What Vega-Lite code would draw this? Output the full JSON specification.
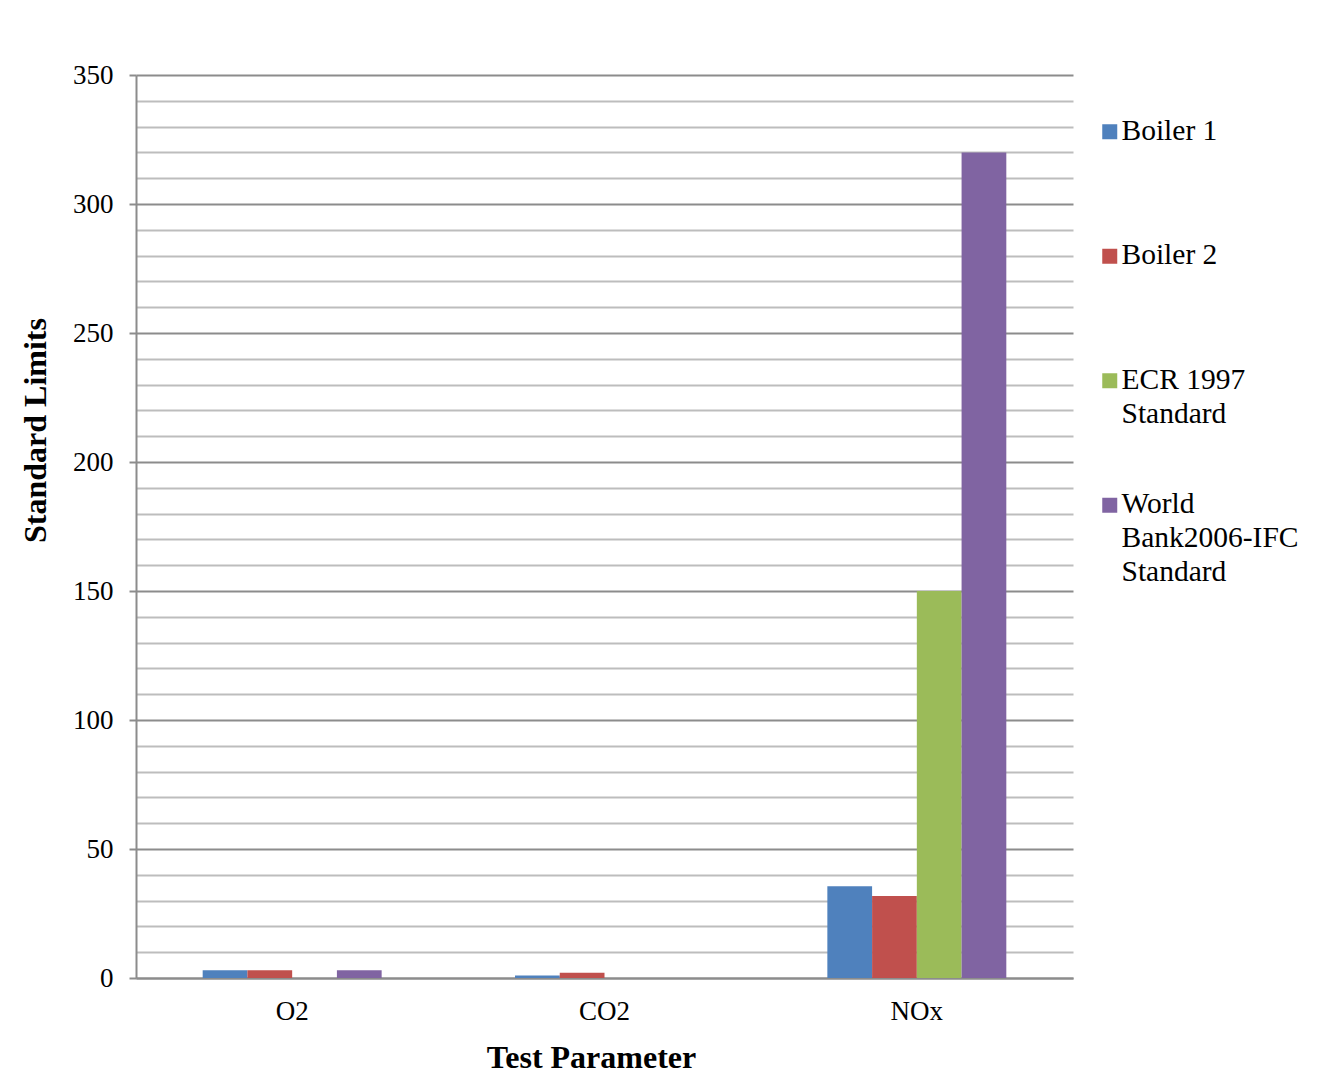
{
  "$schema": "https://vega.github.io/schema/vega-lite/v6.json",
  "width": 937,
  "height": 903,
  "padding": {"left": 136, "top": 75, "right": 255, "bottom": 110},
  "autosize": {"type": "none"},
  "background": "white",
  "config": {
    "font": "Liberation Serif",
    "view": {"stroke": null}
  },
  "data": {
    "values": [
      {"param": "O2", "series": "Boiler 1", "value": 3},
      {"param": "O2", "series": "Boiler 2", "value": 3},
      {"param": "O2", "series": "World Bank2006-IFC Standard", "value": 3},
      {"param": "CO2", "series": "Boiler 1", "value": 1},
      {"param": "CO2", "series": "Boiler 2", "value": 2},
      {"param": "NOx", "series": "Boiler 1", "value": 35.6},
      {"param": "NOx", "series": "Boiler 2", "value": 31.8},
      {"param": "NOx", "series": "ECR 1997 Standard", "value": 150},
      {"param": "NOx", "series": "World Bank2006-IFC Standard", "value": 320}
    ]
  },
  "mark": {"type": "bar"},
  "encoding": {
    "x": {
      "field": "param",
      "type": "nominal",
      "sort": ["O2", "CO2", "NOx"],
      "scale": {"paddingInner": 0.427, "paddingOuter": 0.2135},
      "axis": {
        "title": "Test Parameter",
        "titleFontSize": 32,
        "titleFontWeight": "bold",
        "titleColor": "black",
        "titleFont": "Liberation Serif",
        "titleX": 455,
        "titleY": 79,
        "titleBaseline": "middle",
        "labelAngle": 0,
        "labelFontSize": 27,
        "labelColor": "black",
        "labelPadding": 20,
        "ticks": false,
        "domainColor": "#8c8c8c",
        "domainWidth": 2,
        "grid": false
      }
    },
    "xOffset": {
      "field": "series",
      "type": "nominal",
      "scale": {"domain": ["Boiler 1", "Boiler 2", "ECR 1997 Standard", "World Bank2006-IFC Standard"], "paddingInner": 0, "paddingOuter": 0}
    },
    "y": {
      "field": "value",
      "type": "quantitative",
      "scale": {"domain": [0, 350], "nice": false},
      "axis": {
        "title": "Standard Limits",
        "titleFontSize": 32,
        "titleFontWeight": "bold",
        "titleColor": "black",
        "titleX": -101,
        "titleY": 355,
        "titleAngle": -90,
        "titleBaseline": "middle",
        "titleAlign": "center",
        "values": [0,10,20,30,40,50,60,70,80,90,100,110,120,130,140,150,160,170,180,190,200,210,220,230,240,250,260,270,280,290,300,310,320,330,340,350],
        "labelExpr": "datum.value % 50 === 0 ? datum.label : ''",
        "labelFontSize": 27,
        "labelColor": "black",
        "labelPadding": 16,
        "tickSize": 7,
        "tickColor": "#8c8c8c",
        "tickWidth": 2,
        "tickOpacity": {"condition": {"test": "datum.value % 50 === 0", "value": 1}, "value": 0},
        "domainColor": "#8c8c8c",
        "domainWidth": 2,
        "grid": true,
        "gridColor": {"condition": {"test": "datum.value % 50 === 0", "value": "#8c8c8c"}, "value": "#bdbdbd"},
        "gridWidth": 2
      }
    },
    "color": {
      "field": "series",
      "type": "nominal",
      "scale": {
        "domain": ["Boiler 1", "Boiler 2", "ECR 1997 Standard", "World Bank2006-IFC Standard"],
        "range": ["#4F81BD", "#C0504D", "#9BBB59", "#8064A2"]
      },
      "legend": {
        "title": null,
        "orient": "none",
        "legendX": 959,
        "legendY": 42,
        "symbolType": "square",
        "symbolSize": 225,
        "symbolStrokeWidth": 0,
        "symbolOpacity": 1,
        "labelFontSize": 29.5,
        "labelColor": "black",
        "labelOffset": -3,
        "labelLimit": 300,
        "labelBaseline": "top",
        "rowPadding": 25.5,
        "labelExpr": "datum.label === 'Boiler 1' ? ['Boiler 1', ' ', ' '] : datum.label === 'Boiler 2' ? ['Boiler 2', ' ', ' '] : datum.label === 'ECR 1997 Standard' ? ['ECR 1997', 'Standard', ' '] : ['World', 'Bank2006-IFC', 'Standard']",
        "encode": {
          "labels": {"update": {"dy": {"value": -15}, "lineHeight": {"value": 34}}}
        }
      }
    }
  }
}
